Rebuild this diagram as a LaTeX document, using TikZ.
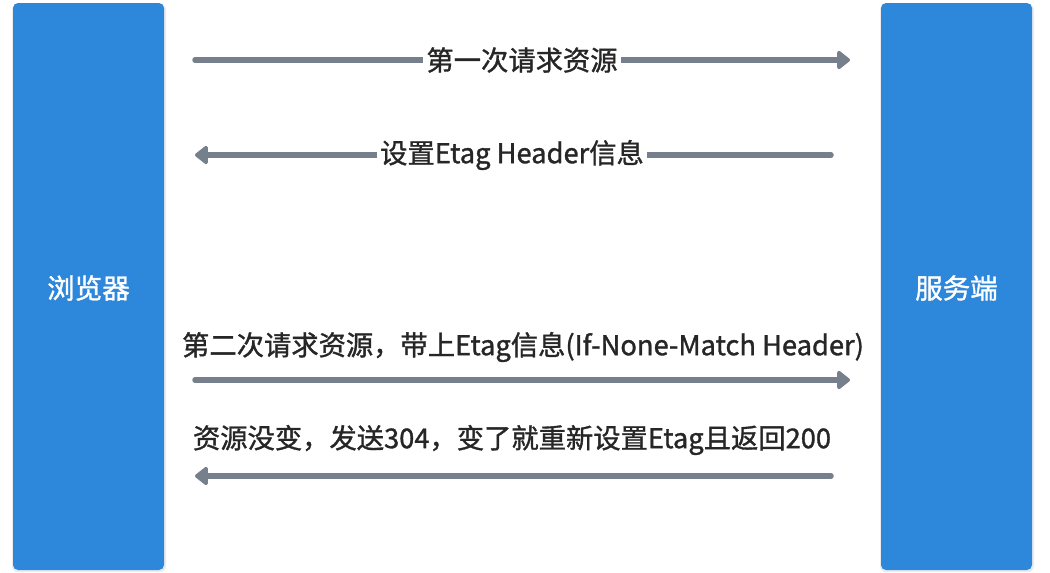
\documentclass[tikz,border=0pt]{standalone}
\usepackage{fontspec}
\setmainfont{Noto Sans CJK SC}[FakeBold=1.2]
\usetikzlibrary{arrows.meta}
\definecolor{boxblue}{HTML}{2D87DA}
\definecolor{arrgray}{HTML}{75808C}
\definecolor{txtgray}{HTML}{262626}
\tikzset{
  x=1pt,y=-1pt,
  side/.style={fill=boxblue, rounded corners=5pt, draw=none},
  sidelabel/.style={text=white, font=\fontsize{27.5}{32}\selectfont},
  msg/.style={line width=5.5pt, draw=arrgray, line cap=round, -{Triangle[length=14pt,width=21pt,round]}},
  lbl/.style={fill=white, text=txtgray, inner sep=3pt, font=\fontsize{27.3}{32}\selectfont},
  lblabove/.style={text=txtgray, inner sep=0pt, font=\fontsize{27.3}{32}\selectfont}
}
\begin{document}
\begin{tikzpicture}
\useasboundingbox (0,0) rectangle (1050,573);
\fill[black!8, rounded corners=6pt] (12,4) rectangle (166,572);
\fill[black!8, rounded corners=6pt] (880,4) rectangle (1034,572);
\path[side] (13,3) rectangle (164,570);
\path[side] (881,3) rectangle (1032,570);
\node[sidelabel] (browser) at (88.5,288) {浏览器};
\node[sidelabel] (server) at (956.5,288) {服务端};

\coordinate (a1s) at (195,60);  \coordinate (a1e) at (850,60);
\coordinate (a2s) at (831,155); \coordinate (a2e) at (195,155);
\coordinate (a3s) at (195,380); \coordinate (a3e) at (850,380);
\coordinate (a4s) at (831,476); \coordinate (a4e) at (195,476);

\draw[msg] (a1s) -- (a1e);
\node[lbl] (l1) at (522,60) {第一次请求资源};
\draw[msg] (a2s) -- (a2e);
\node[lbl] (l2) at (512,155) {设置Etag Header信息};
\draw[msg] (a3s) -- (a3e);
\node[lblabove] (l3) at (523,347) {第二次请求资源，带上Etag信息(If-None-Match Header)};
\draw[msg] (a4s) -- (a4e);
\node[lblabove] (l4) at (512,440) {资源没变，发送304，变了就重新设置Etag且返回200};
\end{tikzpicture}
\end{document}
